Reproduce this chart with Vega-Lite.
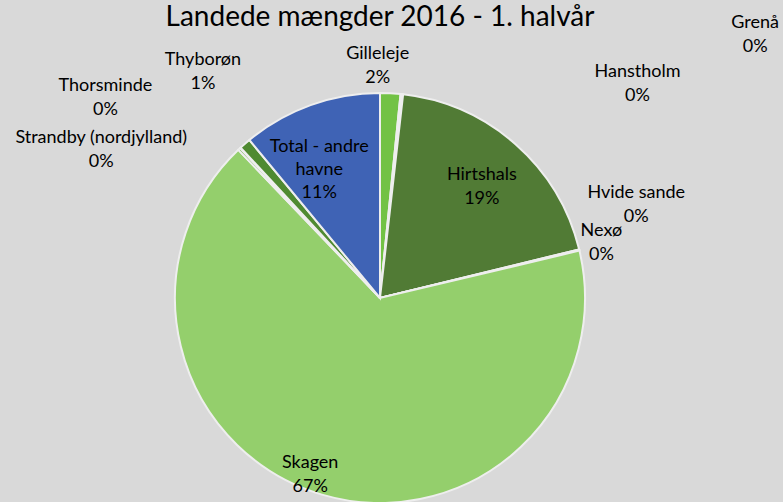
{
  "$schema": "https://vega.github.io/schema/vega-lite/v6.json",
  "autosize": {"type": "none"},
  "width": 760,
  "height": 410,
  "padding": {"left": 0, "top": 93, "right": 23, "bottom": -1},
  "background": "#d9d9d9",
  "title": {
    "text": "Landede mængder 2016 - 1. halvår",
    "font": "Lato",
    "fontSize": 28,
    "fontWeight": "normal",
    "color": "#000000",
    "anchor": "middle",
    "frame": "group",
    "baseline": "alphabetic",
    "offset": -54
  },
  "config": {"view": {"stroke": null}},
  "data": {
    "values": [
      {"idx": 1, "name": "Gilleleje", "value": 1.6, "label": "Gilleleje\n2%"},
      {"idx": 2, "name": "Grenå", "value": 0.1, "label": "Grenå\n0%"},
      {"idx": 3, "name": "Hanstholm", "value": 0.1, "label": "Hanstholm\n0%"},
      {"idx": 4, "name": "Hirtshals", "value": 19.4, "label": "Hirtshals\n19%"},
      {"idx": 5, "name": "Hvide sande", "value": 0.05, "label": "Hvide sande\n0%"},
      {"idx": 6, "name": "Nexø", "value": 0.05, "label": "Nexø\n0%"},
      {"idx": 7, "name": "Skagen", "value": 66.6, "label": "Skagen\n67%"},
      {"idx": 8, "name": "Strandby (nordjylland)", "value": 0.2, "label": "Strandby (nordjylland)\n0%"},
      {"idx": 9, "name": "Thorsminde", "value": 0.05, "label": "Thorsminde\n0%"},
      {"idx": 10, "name": "Thyborøn", "value": 0.9, "label": "Thyborøn\n1%"},
      {"idx": 11, "name": "Total - andre havne", "value": 11.0, "label": "Total - andre\nhavne\n11%"}
    ]
  },
  "encoding": {
    "theta": {"field": "value", "type": "quantitative", "stack": true},
    "order": {"field": "idx", "type": "quantitative"}
  },
  "layer": [
    {
      "mark": {"type": "arc", "outerRadius": 205, "stroke": "#eeeeee", "strokeWidth": 2},
      "encoding": {
        "color": {
          "field": "name",
          "type": "nominal",
          "legend": null,
          "scale": {
            "domain": ["Gilleleje", "Grenå", "Hanstholm", "Hirtshals", "Hvide sande", "Nexø", "Skagen", "Strandby (nordjylland)", "Thorsminde", "Thyborøn", "Total - andre havne"],
            "range": ["#72c245", "#a9d18e", "#385723", "#517b35", "#6a9f45", "#3f6b24", "#94cf6c", "#7cb55a", "#4a7a2a", "#4f8a31", "#3f63b5"]
          }
        }
      }
    },
    {
      "mark": {"type": "text", "font": "Lato", "fontSize": 18, "lineBreak": "\n", "lineHeight": 24, "baseline": "middle", "align": "center", "color": "#000000", "dx": -14, "dy": -12},
      "encoding": {"radius": {"value": 232}, "text": {"condition": {"test": "datum.name === 'Gilleleje'", "field": "label"}, "value": ""}}
    },
    {
      "mark": {"type": "text", "font": "Lato", "fontSize": 18, "lineBreak": "\n", "lineHeight": 24, "baseline": "middle", "align": "center", "color": "#000000", "dx": 354, "dy": -71},
      "encoding": {"radius": {"value": 205}, "text": {"condition": {"test": "datum.name === 'Grenå'", "field": "label"}, "value": ""}}
    },
    {
      "mark": {"type": "text", "font": "Lato", "fontSize": 18, "lineBreak": "\n", "lineHeight": 24, "baseline": "middle", "align": "center", "color": "#000000", "dx": 235, "dy": -22},
      "encoding": {"radius": {"value": 205}, "text": {"condition": {"test": "datum.name === 'Hanstholm'", "field": "label"}, "value": ""}}
    },
    {
      "mark": {"type": "text", "font": "Lato", "fontSize": 18, "lineBreak": "\n", "lineHeight": 24, "baseline": "middle", "align": "center", "color": "#000000", "dx": 2, "dy": -10},
      "encoding": {"radius": {"value": 151}, "text": {"condition": {"test": "datum.name === 'Hirtshals'", "field": "label"}, "value": ""}}
    },
    {
      "mark": {"type": "text", "font": "Lato", "fontSize": 18, "lineBreak": "\n", "lineHeight": 24, "baseline": "middle", "align": "center", "color": "#000000", "dx": 57, "dy": -57},
      "encoding": {"radius": {"value": 205}, "text": {"condition": {"test": "datum.name === 'Hvide sande'", "field": "label"}, "value": ""}}
    },
    {
      "mark": {"type": "text", "font": "Lato", "fontSize": 18, "lineBreak": "\n", "lineHeight": 24, "baseline": "middle", "align": "center", "color": "#000000", "dx": 22, "dy": -19},
      "encoding": {"radius": {"value": 205}, "text": {"condition": {"test": "datum.name === 'Nexø'", "field": "label"}, "value": ""}}
    },
    {
      "mark": {"type": "text", "font": "Lato", "fontSize": 18, "lineBreak": "\n", "lineHeight": 24, "baseline": "middle", "align": "center", "color": "#000000", "dx": -16, "dy": -17},
      "encoding": {"radius": {"value": 190}, "text": {"condition": {"test": "datum.name === 'Skagen'", "field": "label"}, "value": ""}}
    },
    {
      "mark": {"type": "text", "font": "Lato", "fontSize": 18, "lineBreak": "\n", "lineHeight": 24, "baseline": "middle", "align": "center", "color": "#000000", "dx": -138, "dy": -11},
      "encoding": {"radius": {"value": 205}, "text": {"condition": {"test": "datum.name === 'Strandby (nordjylland)'", "field": "label"}, "value": ""}}
    },
    {
      "mark": {"type": "text", "font": "Lato", "fontSize": 18, "lineBreak": "\n", "lineHeight": 24, "baseline": "middle", "align": "center", "color": "#000000", "dx": -135, "dy": -62},
      "encoding": {"radius": {"value": 205}, "text": {"condition": {"test": "datum.name === 'Thorsminde'", "field": "label"}, "value": ""}}
    },
    {
      "mark": {"type": "text", "font": "Lato", "fontSize": 18, "lineBreak": "\n", "lineHeight": 24, "baseline": "middle", "align": "center", "color": "#000000", "dx": -42, "dy": -84},
      "encoding": {"radius": {"value": 205}, "text": {"condition": {"test": "datum.name === 'Thyborøn'", "field": "label"}, "value": ""}}
    },
    {
      "mark": {"type": "text", "font": "Lato", "fontSize": 18, "lineBreak": "\n", "lineHeight": 23, "baseline": "middle", "align": "center", "color": "#000000", "dx": -13, "dy": -18},
      "encoding": {"radius": {"value": 141}, "text": {"condition": {"test": "datum.name === 'Total - andre havne'", "field": "label"}, "value": ""}}
    }
  ]
}
